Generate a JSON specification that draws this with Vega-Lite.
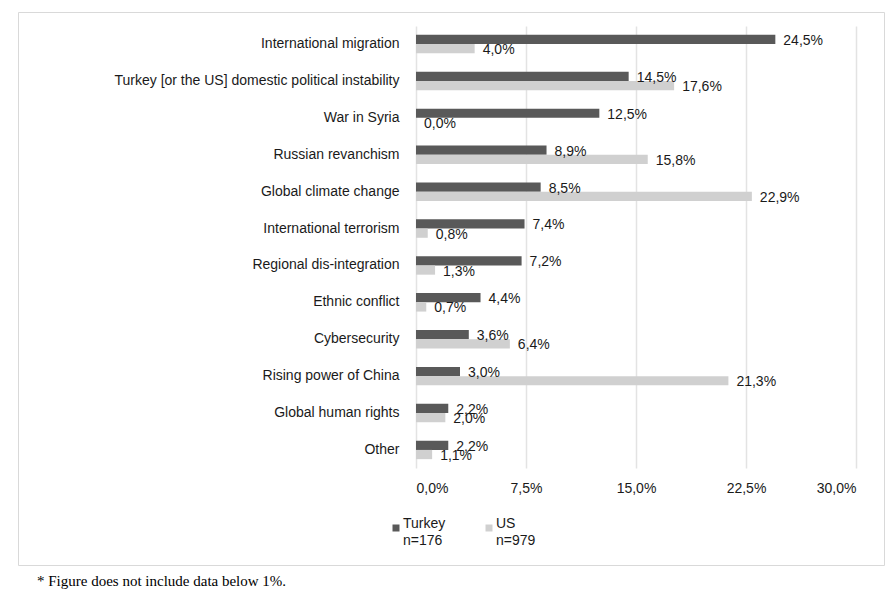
{
  "$schema": "https://vega.github.io/schema/vega-lite/v6.json",
  "width": 866,
  "height": 553,
  "autosize": {"type": "none"},
  "padding": {"left": 18, "top": 12, "right": 7, "bottom": 31},
  "background": "white",
  "config": {
    "locale": {"number": {"decimal": ",", "thousands": ".", "grouping": [3], "currency": ["", " €"]}},
    "view": {"stroke": "#d9d9d9", "strokeWidth": 1},
    "font": "Liberation Sans",
    "style": {"guide-label": {"lineHeight": 17}},
    "axis": {"labelFont": "Liberation Sans", "labelFontSize": 14, "labelColor": "#1a1a1a"},
    "legend": {"labelFont": "Liberation Sans", "labelFontSize": 14, "labelColor": "#1a1a1a"}
  },
  "title": {
    "text": "* Figure does not include data below 1%.",
    "orient": "bottom",
    "anchor": "start",
    "frame": "group",
    "font": "Liberation Serif",
    "fontSize": 15,
    "fontWeight": "normal",
    "color": "#000000",
    "offset": 9,
    "dx": 19
  },
  "data": {
    "values": [
      {"threat": "International migration", "country": "Turkey", "share": 0.245},
      {"threat": "International migration", "country": "US", "share": 0.040},
      {"threat": "Turkey [or the US] domestic political instability", "country": "Turkey", "share": 0.145},
      {"threat": "Turkey [or the US] domestic political instability", "country": "US", "share": 0.176},
      {"threat": "War in Syria", "country": "Turkey", "share": 0.125},
      {"threat": "War in Syria", "country": "US", "share": 0.0},
      {"threat": "Russian revanchism", "country": "Turkey", "share": 0.089},
      {"threat": "Russian revanchism", "country": "US", "share": 0.158},
      {"threat": "Global climate change", "country": "Turkey", "share": 0.085},
      {"threat": "Global climate change", "country": "US", "share": 0.229},
      {"threat": "International terrorism", "country": "Turkey", "share": 0.074},
      {"threat": "International terrorism", "country": "US", "share": 0.008},
      {"threat": "Regional dis-integration", "country": "Turkey", "share": 0.072},
      {"threat": "Regional dis-integration", "country": "US", "share": 0.013},
      {"threat": "Ethnic conflict", "country": "Turkey", "share": 0.044},
      {"threat": "Ethnic conflict", "country": "US", "share": 0.007},
      {"threat": "Cybersecurity", "country": "Turkey", "share": 0.036},
      {"threat": "Cybersecurity", "country": "US", "share": 0.064},
      {"threat": "Rising power of China", "country": "Turkey", "share": 0.030},
      {"threat": "Rising power of China", "country": "US", "share": 0.213},
      {"threat": "Global human rights", "country": "Turkey", "share": 0.022},
      {"threat": "Global human rights", "country": "US", "share": 0.020},
      {"threat": "Other", "country": "Turkey", "share": 0.022},
      {"threat": "Other", "country": "US", "share": 0.011}
    ]
  },
  "encoding": {
    "y": {
      "field": "threat",
      "type": "nominal",
      "sort": null,
      "title": null,
      "scale": {"range": [14, 456], "paddingInner": 0.5, "paddingOuter": 0.24},
      "axis": {"offset": -398, "ticks": false, "domain": false, "grid": false, "labelPadding": 17, "labelLimit": 400}
    },
    "yOffset": {"field": "country", "type": "nominal", "scale": {"paddingInner": 0, "paddingOuter": 0}}
  },
  "resolve": {"axis": {"x": "independent"}},
  "layer": [
    {
      "mark": {"type": "bar", "cornerRadius": 0},
      "encoding": {
        "x": {
          "field": "share",
          "type": "quantitative",
          "title": null,
          "scale": {"domain": [0, 0.3], "range": [398, 838], "nice": false, "zero": true},
          "axis": {"orient": "top", "values": [0, 0.075, 0.15, 0.225, 0.3], "labels": false, "offset": 0, "ticks": false, "domain": false, "grid": true, "gridColor": "#e3e3e3", "gridWidth": 1.5}
        },
        "color": {
          "field": "country",
          "type": "nominal",
          "scale": {"domain": ["Turkey", "US"], "range": ["#595959", "#d0d0d0"]},
          "legend": {
            "title": null,
            "orient": "none",
            "legendX": 371,
            "legendY": 509,
            "direction": "horizontal",
            "columns": 2,
            "columnPadding": 36,
            "symbolType": "square",
            "symbolSize": 49,
            "symbolStrokeWidth": 0,
            "labelOffset": 0,
            "labelBaseline": "alphabetic",
            "padding": 0,
            "labelExpr": "datum.label == 'Turkey' ? ['Turkey', 'n=176'] : ['US', 'n=979']"
          }
        }
      }
    },
    {
      "mark": {"type": "text", "align": "left", "baseline": "middle", "dx": 8, "dy": 1.5, "fontSize": 14, "color": "#1a1a1a", "font": "Liberation Sans"},
      "encoding": {
        "x": {
          "field": "share",
          "type": "quantitative",
          "title": null,
          "axis": {"orient": "bottom", "values": [0, 0.075, 0.15, 0.225, 0.3], "format": ".1%", "offset": -97, "ticks": false, "domain": false, "grid": false, "labelPadding": 13}
        },
        "text": {"field": "share", "type": "quantitative", "format": ".1%"}
      }
    }
  ]
}
